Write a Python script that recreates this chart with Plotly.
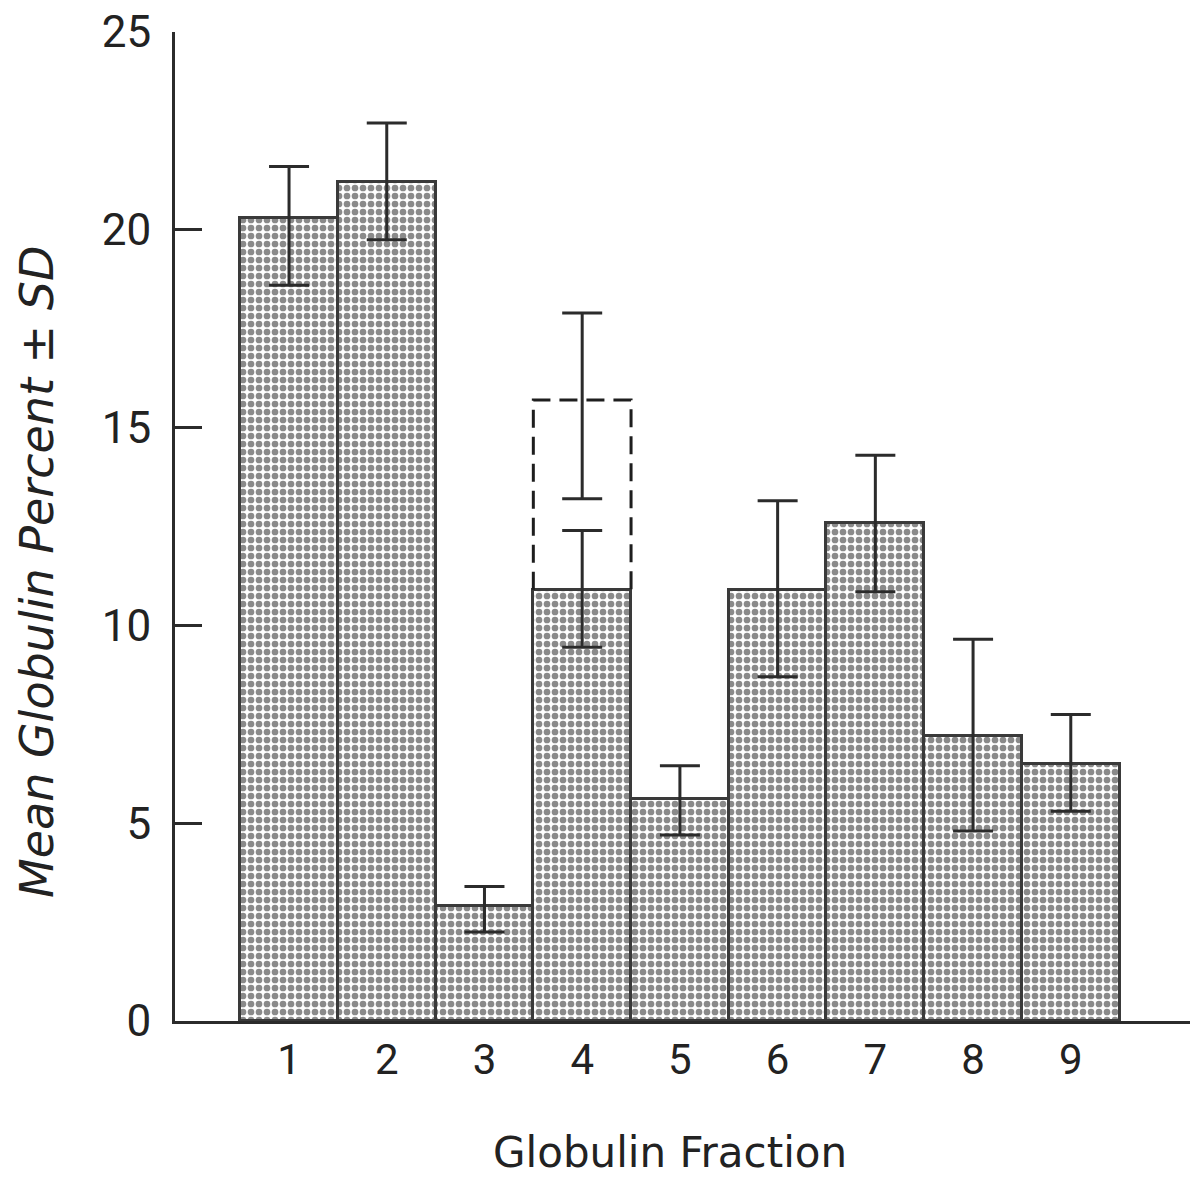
import plotly.graph_objects as go

# ---- data ----
fractions = [1, 2, 3, 4, 5, 6, 7, 8, 9]
fraction_labels = ["1", "2", "3", "4", "5", "6", "7", "8", "9"]
mean_pct = [20.3, 21.2, 2.9, 10.9, 5.6, 10.9, 12.6, 7.2, 6.5]
sd_upper = [1.3, 1.5, 0.5, 1.5, 0.85, 2.25, 1.7, 2.45, 1.25]
sd_lower = [1.7, 1.45, 0.65, 1.45, 0.9, 2.2, 1.75, 2.4, 1.2]

# alternate (dashed) value for fraction 4
alt_fraction = [4]
alt_mean = [15.7]
alt_sd_upper = [2.2]
alt_sd_lower = [2.5]

y_ticks = [0, 5, 10, 15, 20, 25]

INK = "#2b2b2b"
FONT = "Roboto"
TITLE_FONT = "DejaVu Sans"

fig = go.Figure()

fig.add_trace(go.Bar(
    x=fractions, y=mean_pct, width=1.0,
    marker=dict(
        color="white",
        line=dict(color="#3a3a3a", width=3),
        pattern=dict(shape=".", fgcolor="#151515", bgcolor="white",
                     size=8, solidity=0.55),
    ),
    error_y=dict(type="data", symmetric=False, array=sd_upper,
                 arrayminus=sd_lower, color=INK, thickness=3, width=20),
    hoverinfo="skip",
))

# dashed outline for the alternate fraction-4 value
base4 = mean_pct[fractions.index(alt_fraction[0])]
xc = alt_fraction[0]
fig.add_trace(go.Scatter(
    x=[xc - 0.5, xc - 0.5, xc + 0.5, xc + 0.5],
    y=[base4, alt_mean[0], alt_mean[0], base4],
    mode="lines",
    line=dict(color="#1e1e1e", width=3, dash="18px,9px"),
    hoverinfo="skip",
))
fig.add_trace(go.Scatter(
    x=alt_fraction, y=alt_mean, mode="markers",
    marker=dict(size=1, color="rgba(0,0,0,0)"),
    error_y=dict(type="data", symmetric=False, array=alt_sd_upper,
                 arrayminus=alt_sd_lower, color=INK, thickness=3, width=20),
    hoverinfo="skip",
))

fig.update_layout(
    width=1204, height=1182,
    margin=dict(l=175, r=14, t=32, b=161, autoexpand=False),
    plot_bgcolor="white", paper_bgcolor="white",
    showlegend=False, bargap=0,
    font=dict(family=FONT, color="#222"),
    xaxis=dict(
        range=[-0.167, 10.22], tickvals=fractions, ticktext=fraction_labels,
        ticks="", showline=True, linewidth=3, linecolor=INK,
        showgrid=False, zeroline=False, automargin=False,
        tickfont=dict(size=42, family=FONT, color="#222"),
        ticklabelstandoff=0,
    ),
    yaxis=dict(
        range=[0, 25], tickvals=y_ticks, ticktext=[str(v) for v in y_ticks],
        ticks="inside", ticklen=27, tickwidth=3, tickcolor=INK,
        showline=True, linewidth=3, linecolor=INK,
        showgrid=False, zeroline=False, automargin=False,
        tickfont=dict(size=44, family=FONT, color="#222"),
        ticklabelstandoff=12,
    ),
    annotations=[
        dict(text="Globulin Fraction", xref="paper", yref="paper",
             x=(670 - 175) / 1015, y=-(1152 - 1021) / 989,
             xanchor="center", yanchor="middle", showarrow=False,
             font=dict(size=42, family=TITLE_FONT, color="#222")),
        dict(text="<i>Mean Globulin Percent ± SD</i>", xref="paper", yref="paper",
             x=(37 - 175) / 1015, y=(1021 - 572) / 989, textangle=-90,
             xanchor="center", yanchor="middle", showarrow=False,
             font=dict(size=46, family=TITLE_FONT, color="#222")),
    ],
)

fig.write_html("out.html")
